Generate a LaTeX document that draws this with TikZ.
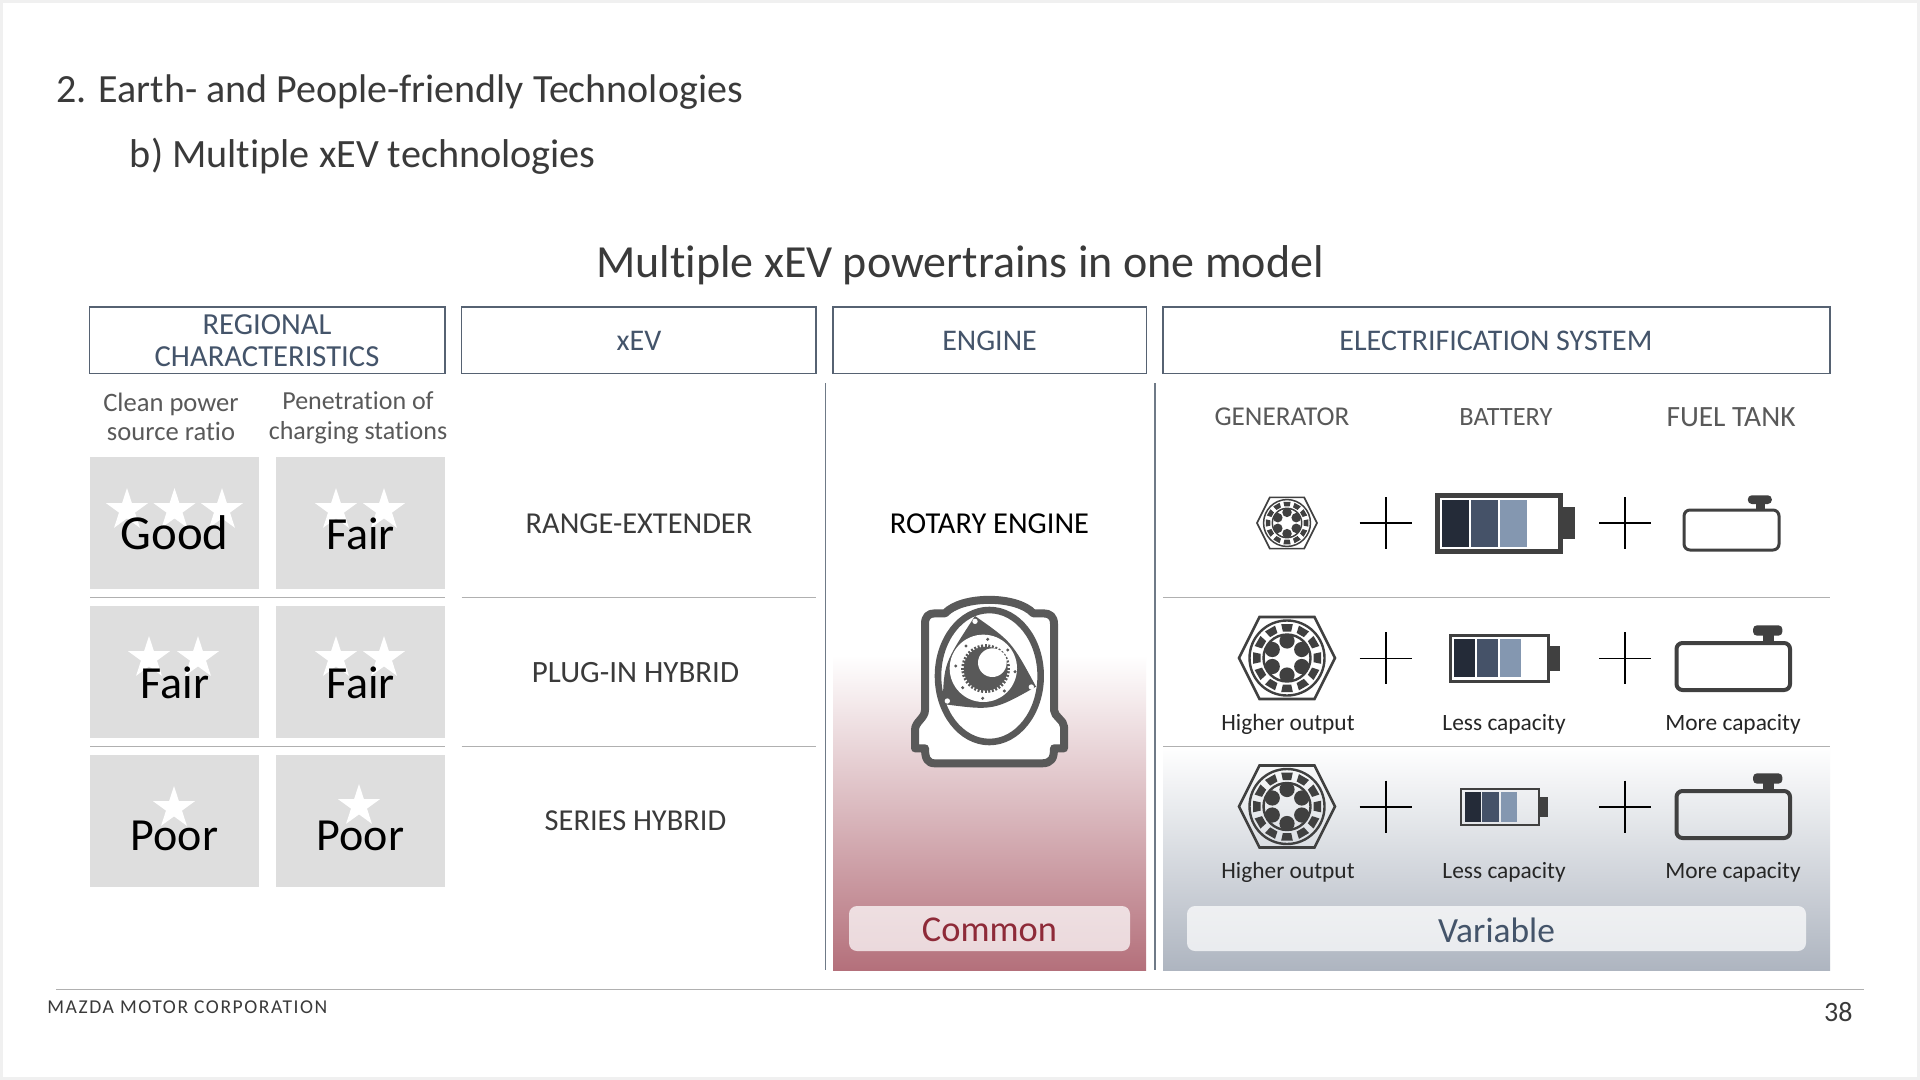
\documentclass[tikz,border=0pt]{standalone}
\usepackage{fontspec}
\setmainfont{Carlito}[Ligatures=NoCommon]
\usetikzlibrary{shapes.geometric}
\definecolor{ink}{HTML}{3A3A3A}
\definecolor{slate}{HTML}{44546A}
\definecolor{boxline}{HTML}{566272}
\definecolor{greytxt}{HTML}{595959}
\definecolor{tile}{HTML}{DEDEDE}
\definecolor{rule}{HTML}{B0B0B0}
\definecolor{icon}{HTML}{404040}
\definecolor{engine}{HTML}{595959}
\definecolor{cellA}{HTML}{242B38}
\definecolor{cellB}{HTML}{455268}
\definecolor{cellC}{HTML}{8497B0}
\definecolor{redbot}{HTML}{B4707B}
\definecolor{bluebot}{HTML}{AEB5C0}
\definecolor{commonred}{HTML}{8E2A38}
\definecolor{frameband}{HTML}{F0F0F0}
\tikzset{
  hdrbox/.style={draw=boxline,line width=0.6pt,fill=none},
  hdrtxt/.style={text=slate,font=\fontsize{15}{15.5}\selectfont,align=center,inner sep=0},
  subtxt/.style={text=greytxt,font=\fontsize{13}{14.8}\selectfont,align=center,inner sep=0},
  coltxt/.style={text=greytxt,font=\fontsize{13.6}{15}\selectfont,inner sep=0},
  rowtxt/.style={text=ink,font=\fontsize{15.2}{15}\selectfont,inner sep=0},
  captxt/.style={text=black!85,font=\fontsize{11.7}{14}\selectfont,inner sep=0},
  gradetxt/.style={text=black,inner sep=0,anchor=base},
  tilebox/.style={fill=tile,draw=none},
  whitestar/.style={star,star points=5,star point ratio=2.618,fill=white,draw=none,inner sep=0,minimum size=22pt},
  hair/.style={draw=rule,line width=0.5pt},
  vbar/.style={draw=boxline!85,line width=0.65pt},
  pluslines/.style={draw=black,line width=0.8pt},
  pill/.style={fill=white,fill opacity=.72,draw=none,rounded corners=4pt},
}
% generator icon: centre x, centre y, scale
\newcommand{\genicon}[3]{%
\begin{scope}[shift={(#1,#2)},scale=#3]
  \draw[icon,line width=#3*1.3pt,line join=miter] (-48,0)--(-27.5,-41)--(27.5,-41)--(48,0)--(27.5,41)--(-27.5,41)--cycle;
  \draw[icon,line width=#3*1.2pt] (0,0) circle (37.5);
  \draw[icon,line width=#3*1.2pt] (0,0) circle (23.5);
  \foreach \a in {0,30,...,330}{
    \fill[icon,rotate=\a] (-5.8,-34)--(5.8,-34)--(4.2,-26.5)--(-4.2,-26.5)--cycle;
  }
  \begin{scope}
    \clip (0,0) circle (23.5);
    \foreach \a in {30,90,...,330}{ \fill[icon] (\a:17) circle (7.6); }
  \end{scope}
\end{scope}}
% battery: x0 x1 y0 y1 line-width nub-x1 nub-y0 nub-y1
\newcommand{\batbody}[8]{%
  \draw[icon,line width=#5] (#1,#3) rectangle (#2,#4);
  \fill[icon] (#2,#7) rectangle (#6,#8);}
% tank: x0 x1 y0 y1 line width; cap x0 x1 y0 y1
\newcommand{\tankicon}[9]{%
  \draw[icon,line width=#5,rounded corners=3pt] (#1,#3) rectangle (#2,#4);
  \fill[icon,rounded corners=2pt] (#6,#8) rectangle (#7,#9);}
\begin{document}
\begin{tikzpicture}[x=0.5pt,y=-0.5pt]
\useasboundingbox (0,0) rectangle (1920,1080);
\fill[frameband] (0,0) rectangle (1920,1080);
\fill[white] (3,3) rectangle (1917,1077);
% gradients
\shade[top color=white,bottom color=redbot] (833,655) rectangle (1146,970);
\shade[top color=white,bottom color=bluebot] (1163,746) rectangle (1830,970);
% titles
\node[anchor=base west,text=ink,font=\fontsize{20}{20}\selectfont,inner sep=0] (t1) at (56,103) {2. Earth- and People-friendly Technologies};
\node[anchor=base west,text=ink,font=\fontsize{20.1}{20}\selectfont,inner sep=0] (t2) at (129.5,168) {b) Multiple xEV technologies};
\node[anchor=base,text=ink,font=\fontsize{23}{22}\selectfont,inner sep=0] (t3) at (960,278) {Multiple xEV powertrains in one model};
% header boxes
\draw[hdrbox] (89.5,307) rectangle (445,373.5);
\draw[hdrbox] (461.5,307) rectangle (816,373.5);
\draw[hdrbox] (833,307) rectangle (1146.5,373.5);
\draw[hdrbox] (1163,307) rectangle (1830,373.5);
\node[hdrtxt,font=\fontsize{15.3}{16}\selectfont] (h1) at (267,341) {REGIONAL\\CHARACTERISTICS};
\node[hdrtxt] (h2) at (639,341) {xEV};
\node[hdrtxt] (h3) at (989.5,341) {ENGINE};
\node[hdrtxt] (h4) at (1496,341) {ELECTRIFICATION SYSTEM};
% sub headers
\node[subtxt,font=\fontsize{13.3}{14.6}\selectfont] (s1) at (171,417) {Clean power\\ source ratio};
\node[subtxt] (s2) at (358,417.5) {Penetration of\\charging stations};
\node[coltxt] (c1) at (1282,417) {GENERATOR};
\node[coltxt,font=\fontsize{13.2}{15}\selectfont] (c2) at (1506,417) {BATTERY};
\node[coltxt,font=\fontsize{14.7}{15}\selectfont] (c3) at (1731,417) {FUEL TANK};
% verticals
\draw[vbar] (825.5,383) -- (825.5,970);
\draw[vbar] (1155,383) -- (1155,970);
% row rules
\foreach \yy in {597.5,746}{
  \draw[hair] (90,\yy) -- (445,\yy);
  \draw[hair] (461.5,\yy) -- (816,\yy);
  \draw[hair] (1163,\yy) -- (1830,\yy);
}
% tiles
\foreach \yy in {457,606,754.5}{
  \fill[tilebox] (90,\yy) rectangle (259,\yy+132);
  \fill[tilebox] (275.5,\yy) rectangle (445,\yy+132);
}
% stars
\node[whitestar] (st1) at (127,510) {};
\node[whitestar] (st2) at (174.5,510) {};
\node[whitestar] (st3) at (222,510) {};
\node[whitestar] (st4) at (336,510) {};
\node[whitestar] (st5) at (384,510) {};
\node[whitestar] (st6) at (149,658) {};
\node[whitestar] (st7) at (198,658) {};
\node[whitestar] (st8) at (336,658) {};
\node[whitestar] (st9) at (384,658) {};
\node[whitestar] (st10) at (174,808) {};
\node[whitestar] (st11) at (359,806) {};
% grades
\node[gradetxt,font=\fontsize{24.4}{22}\selectfont] (g1) at (174.5,549) {Good};
\node[gradetxt,font=\fontsize{23}{22}\selectfont] (g2) at (360.5,549) {Fair};
\node[gradetxt,font=\fontsize{23}{22}\selectfont] (g3) at (175,698) {Fair};
\node[gradetxt,font=\fontsize{23}{22}\selectfont] (g4) at (360.5,698) {Fair};
\node[gradetxt,font=\fontsize{23}{22}\selectfont] (g5) at (174.5,850) {Poor};
\node[gradetxt,font=\fontsize{23}{22}\selectfont] (g6) at (360.5,850) {Poor};
% xEV rows
\node[rowtxt] (x1) at (639,524) {RANGE-EXTENDER};
\node[rowtxt,font=\fontsize{15.5}{15}\selectfont] (x2) at (635.5,673) {PLUG-IN HYBRID};
\node[rowtxt] (x3) at (635.5,821) {SERIES HYBRID};
\node[rowtxt,text=black] (e1) at (989.5,524) {ROTARY ENGINE};
% rotary engine icon
\begin{scope}[shift={(820,500)},scale=1/3]
  \draw[engine,line width=4pt,fill=white,line join=round]
    (315,372) .. controls (315,350) and (325,340) .. (345,340) -- (375,340)
    .. controls (425,286) and (590,286) .. (640,340) -- (670,340)
    .. controls (690,340) and (702,350) .. (702,372) -- (702,630)
    .. controls (702,650) and (732,660) .. (732,680) -- (732,745) -- (702,745)
    .. controls (702,775) and (695,790) .. (665,790) -- (345,790)
    .. controls (322,790) and (315,775) .. (315,745) -- (285,745) -- (285,690)
    .. controls (285,665) and (315,655) .. (315,630) -- cycle;
  \draw[engine,line width=3.3pt] (508,528) ellipse (154 and 198);
  \fill[engine] (465,348) .. controls (575,425) .. (648,560) .. controls (520,632) .. (368,612) .. controls (372,490) .. (465,348) -- cycle;
  \fill[white] (465,364) circle (8);
  \fill[white] (634,561) circle (8);
  \fill[white] (382,603) circle (8);
  \fill[white] (490,505) circle (101);
  \foreach \px/\py in {503/418,563/450,585/515,553/573,488/595,428/563,407/498,438/438}{
    \fill[engine] (\px,\py) circle (5);
  }
  \begin{scope}[shift={(497,506)}]
    \fill[engine] (0,0) circle (66);
    \foreach \a in {0,9,...,351}{ \draw[engine,line width=1pt] (\a:62) -- (\a:73); }
  \end{scope}
  \fill[white] (517,488) circle (43);
\end{scope}
% pills
\fill[pill] (849,906) rectangle (1130,951);
\fill[pill] (1187,906) rectangle (1806,951);
\node[text=commonred,font=\fontsize{18.2}{17}\selectfont,inner sep=0] (p1) at (989.5,930) {Common};
\node[text=slate,font=\fontsize{17.7}{17}\selectfont,inner sep=0] (p2) at (1496.5,930) {Variable};
% generators
\genicon{1287}{523}{0.625}
\genicon{1287}{658}{1}
\genicon{1287}{806.5}{1}
% pluses
\foreach \px in {1385.7,1625}{
  \foreach \py in {523,658.3,806.7}{
    \draw[pluslines] (\px-26,\py) -- (\px+26,\py);
    \draw[pluslines] (\px,\py-26) -- (\px,\py+26);
  }
}
% batteries
\batbody{1437.5}{1560.4}{495.3}{551.3}{2.2pt}{1574.7}{507}{539}
\fill[cellA] (1442,500) rectangle (1468.6,546.7);
\fill[cellB] (1471,500) rectangle (1497.5,546.7);
\fill[cellC] (1500,500) rectangle (1526.5,546.7);
\batbody{1450}{1548.6}{635.5}{681}{1.5pt}{1560}{645.7}{671.3}
\fill[cellA] (1453.5,639.3) rectangle (1474.7,677.3);
\fill[cellB] (1477,639.3) rectangle (1498.4,677.3);
\fill[cellC] (1500,639.3) rectangle (1521.2,677.3);
\batbody{1461}{1539}{789.3}{824.7}{1.1pt}{1548}{796.7}{816.7}
\fill[cellA] (1464.5,792.3) rectangle (1480.8,821.7);
\fill[cellB] (1482.4,792.3) rectangle (1499.2,821.7);
\fill[cellC] (1500.8,792.3) rectangle (1517,821.7);
% tanks
\tankicon{1684}{1779}{510}{550}{1.5pt}{1747.8}{1771.8}{495.3}{504}
\fill[icon] (1756,503) rectangle (1765,510);
\tankicon{1676.5}{1790}{643}{690}{2pt}{1753}{1782.4}{625.3}{635.7}
\fill[icon] (1763,635) rectangle (1773.5,643);
\tankicon{1676.5}{1790}{791}{838}{2pt}{1753}{1782.4}{773.3}{783.7}
\fill[icon] (1763,783) rectangle (1773.5,791);
% captions
\node[captxt] (k1) at (1288,724) {Higher output};
\node[captxt] (k2) at (1504,724) {Less capacity};
\node[captxt] (k3) at (1733,724) {More capacity};
\node[captxt] (k4) at (1288,872.5) {Higher output};
\node[captxt] (k5) at (1504,872.5) {Less capacity};
\node[captxt] (k6) at (1733,872.5) {More capacity};
% footer
\draw[draw=rule,line width=0.6pt] (56,989.5) -- (1864,989.5);
\node[anchor=base west,text=ink,font=\fontsize{9.8}{10}\selectfont\addfontfeatures{LetterSpace=8},inner sep=0] (f1) at (47,1013.5) {MAZDA MOTOR CORPORATION};
\node[anchor=base east,text=ink,font=\fontsize{14}{13}\selectfont,inner sep=0] (f2) at (1853,1021) {38};
\end{tikzpicture}
\end{document}
